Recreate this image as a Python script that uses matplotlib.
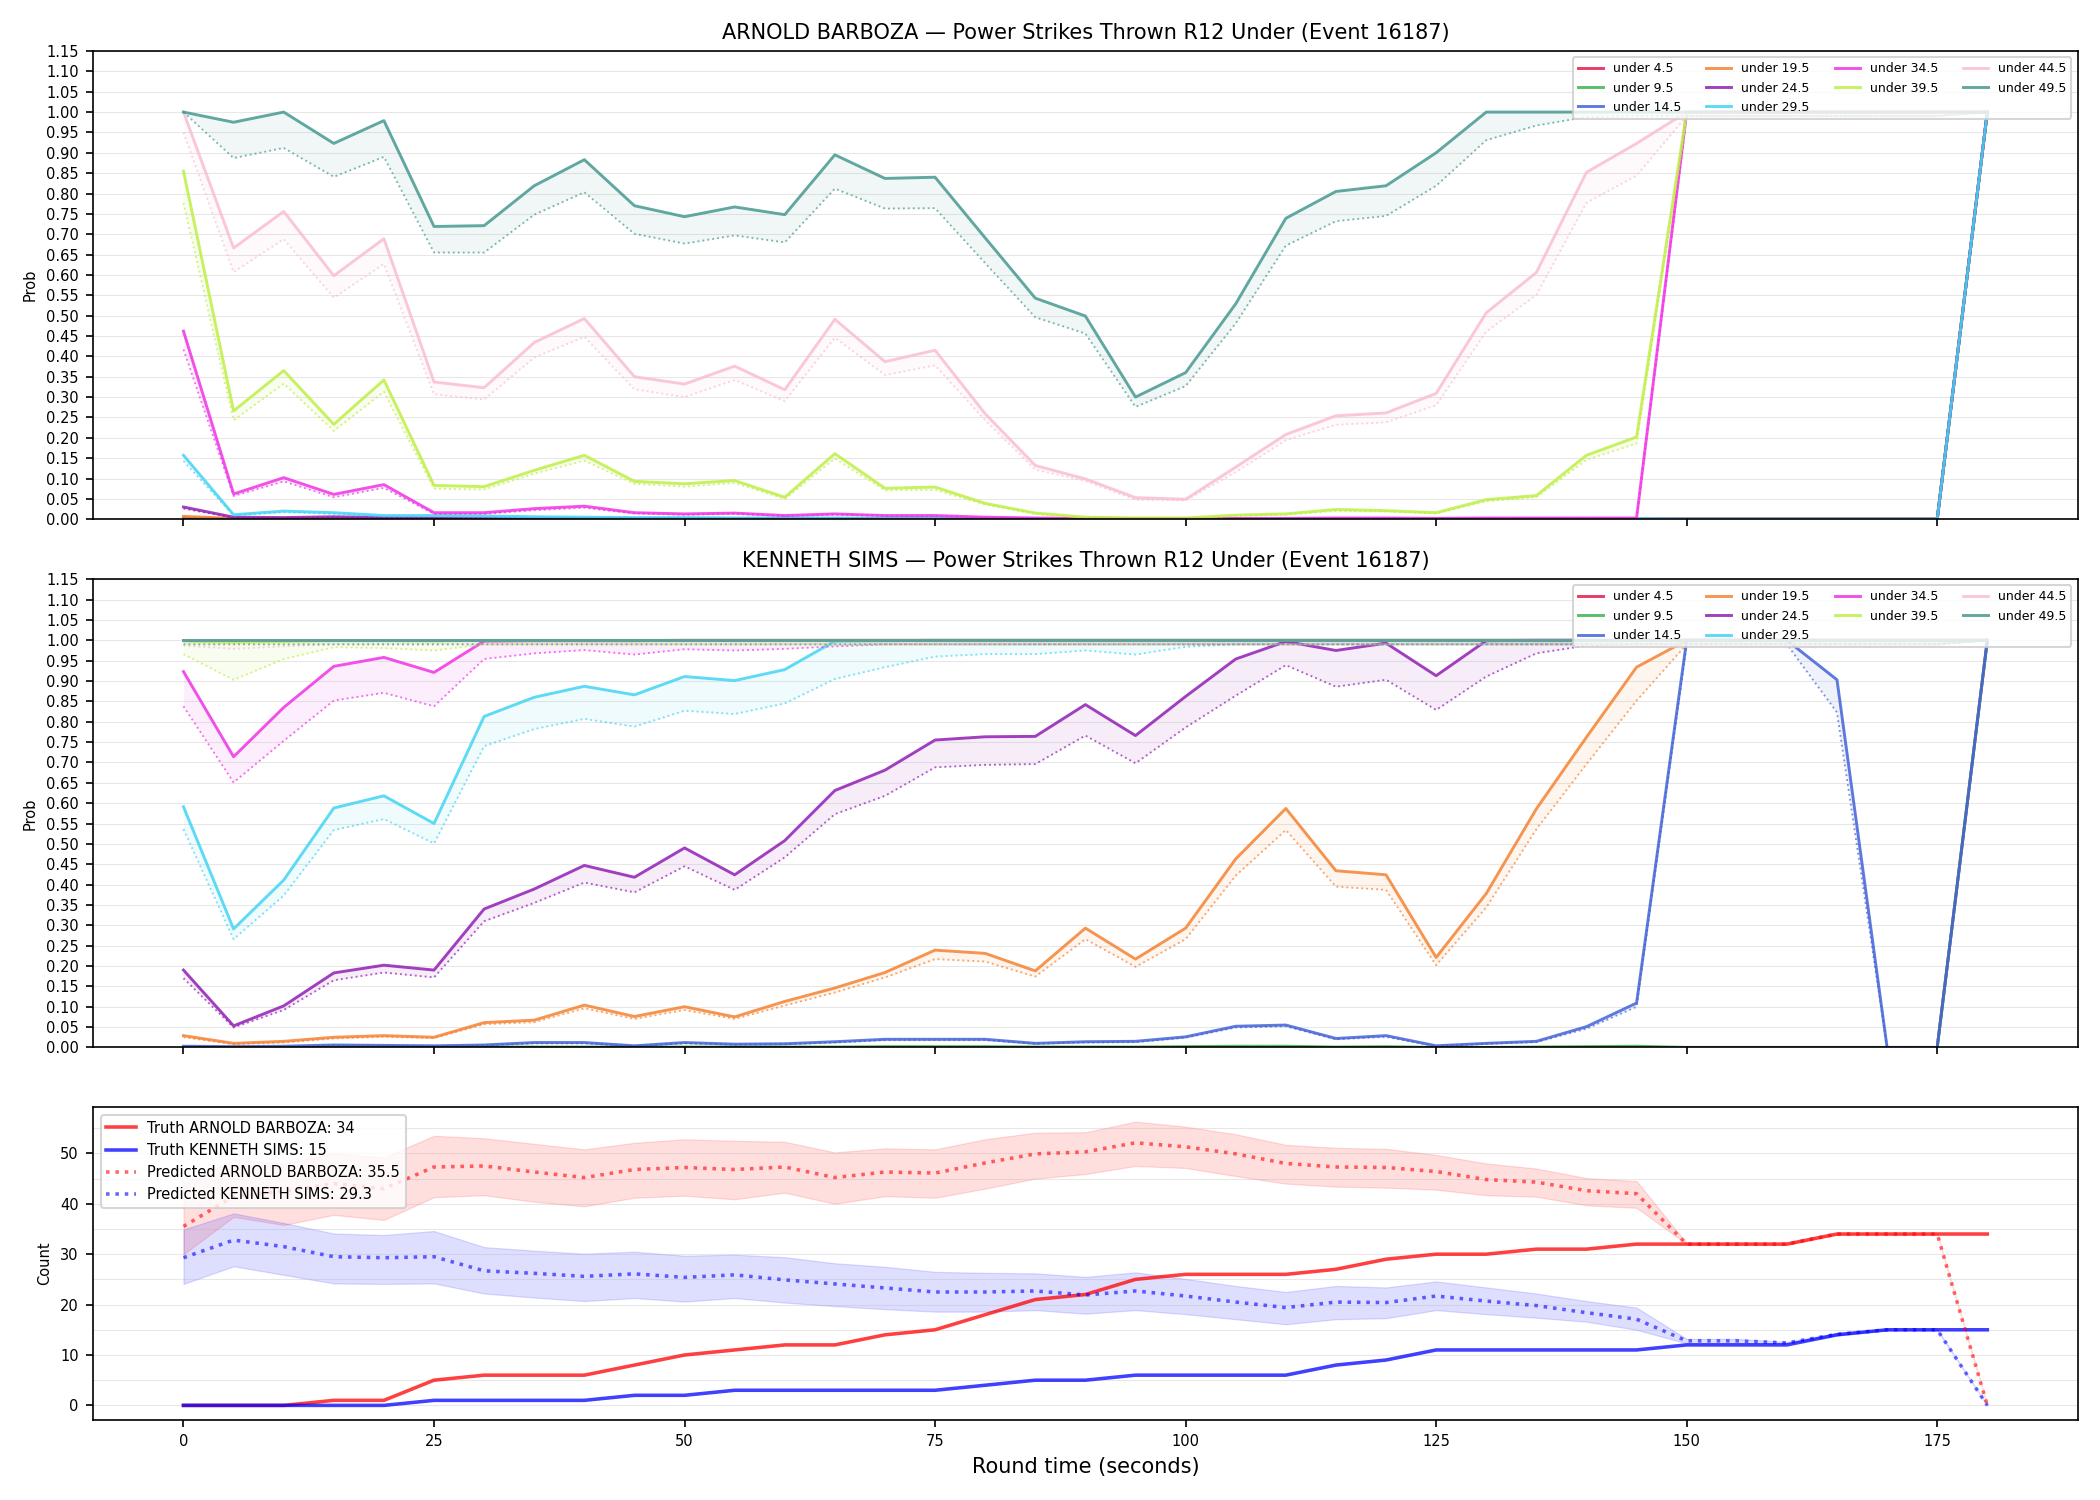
import numpy as np
import matplotlib
matplotlib.use('Agg')
import matplotlib.pyplot as plt
from matplotlib.ticker import MultipleLocator

# Tiempo de ronda (cada 5 s)
t = list(range(0, 185, 5))

thresholds = ['under 4.5', 'under 9.5', 'under 14.5', 'under 19.5', 'under 24.5',
              'under 29.5', 'under 34.5', 'under 39.5', 'under 44.5', 'under 49.5']
colors = ['#e6194b', '#3cb44b', '#4363d8', '#f58231', '#911eb4',
          '#42d4f4', '#f032e6', '#bfef45', '#fabed4', '#469990']

# ---------------- ARNOLD BARBOZA: prob (linea continua) y punteada ----------------
ab_u4 = [0.000, 0.000, 0.000, 0.000, 0.000, 0.000, 0.000, 0.000, 0.000, 0.000,
         0.000, 0.000, 0.000, 0.000, 0.000, 0.000, 0.000, 0.000, 0.000, 0.000,
         0.000, 0.000, 0.000, 0.000, 0.000, 0.000, 0.000, 0.000, 0.000, 0.000,
         0.000, 0.000, 0.000, 0.000, 0.000, 0.000, 1.000]
ab_u4_dot = [0.000, 0.000, 0.000, 0.000, 0.000, 0.000, 0.000, 0.000, 0.000, 0.000,
             0.000, 0.000, 0.000, 0.000, 0.000, 0.000, 0.000, 0.000, 0.000, 0.000,
             0.000, 0.000, 0.000, 0.000, 0.000, 0.000, 0.000, 0.000, 0.000, 0.000,
             0.000, 0.000, 0.000, 0.000, 0.000, 0.000, 1.000]
ab_u9 = [0.001, 0.000, 0.000, 0.000, 0.000, 0.000, 0.000, 0.000, 0.000, 0.000,
         0.000, 0.000, 0.000, 0.000, 0.000, 0.000, 0.000, 0.000, 0.000, 0.000,
         0.000, 0.000, 0.000, 0.000, 0.000, 0.000, 0.000, 0.000, 0.000, 0.000,
         0.000, 0.000, 0.000, 0.000, 0.000, 0.000, 1.000]
ab_u9_dot = [0.001, 0.000, 0.000, 0.000, 0.000, 0.000, 0.000, 0.000, 0.000, 0.000,
             0.000, 0.000, 0.000, 0.000, 0.000, 0.000, 0.000, 0.000, 0.000, 0.000,
             0.000, 0.000, 0.000, 0.000, 0.000, 0.000, 0.000, 0.000, 0.000, 0.000,
             0.000, 0.000, 0.000, 0.000, 0.000, 0.000, 1.000]
ab_u14 = [0.002, 0.001, 0.001, 0.001, 0.001, 0.000, 0.000, 0.000, 0.000, 0.000,
          0.000, 0.000, 0.000, 0.000, 0.000, 0.000, 0.000, 0.000, 0.000, 0.000,
          0.000, 0.000, 0.000, 0.000, 0.000, 0.000, 0.000, 0.000, 0.000, 0.000,
          0.000, 0.000, 0.000, 0.000, 0.000, 0.000, 1.000]
ab_u14_dot = [0.002, 0.001, 0.001, 0.001, 0.000, 0.000, 0.000, 0.000, 0.000, 0.000,
              0.000, 0.000, 0.000, 0.000, 0.000, 0.000, 0.000, 0.000, 0.000, 0.000,
              0.000, 0.000, 0.000, 0.000, 0.000, 0.000, 0.000, 0.000, 0.000, 0.000,
              0.000, 0.000, 0.000, 0.000, 0.000, 0.000, 1.000]
ab_u19 = [0.007, 0.002, 0.002, 0.002, 0.001, 0.001, 0.001, 0.001, 0.001, 0.000,
          0.000, 0.000, 0.000, 0.000, 0.000, 0.000, 0.000, 0.000, 0.000, 0.000,
          0.000, 0.000, 0.000, 0.000, 0.000, 0.000, 0.000, 0.000, 0.000, 0.000,
          0.000, 0.000, 0.000, 0.000, 0.000, 0.000, 1.000]
ab_u19_dot = [0.006, 0.002, 0.001, 0.002, 0.001, 0.001, 0.001, 0.001, 0.000, 0.000,
              0.000, 0.000, 0.000, 0.000, 0.000, 0.000, 0.000, 0.000, 0.000, 0.000,
              0.000, 0.000, 0.000, 0.000, 0.000, 0.000, 0.000, 0.000, 0.000, 0.000,
              0.000, 0.000, 0.000, 0.000, 0.000, 0.000, 1.000]
ab_u24 = [0.030, 0.005, 0.004, 0.006, 0.004, 0.002, 0.002, 0.002, 0.002, 0.001,
          0.001, 0.001, 0.001, 0.001, 0.001, 0.001, 0.000, 0.000, 0.000, 0.000,
          0.000, 0.000, 0.000, 0.000, 0.000, 0.000, 0.000, 0.000, 0.000, 0.000,
          0.000, 0.000, 0.000, 0.000, 0.000, 0.000, 1.000]
ab_u24_dot = [0.026, 0.004, 0.003, 0.005, 0.003, 0.002, 0.001, 0.001, 0.001, 0.001,
              0.001, 0.001, 0.001, 0.001, 0.000, 0.000, 0.000, 0.000, 0.000, 0.000,
              0.000, 0.000, 0.000, 0.000, 0.000, 0.000, 0.000, 0.000, 0.000, 0.000,
              0.000, 0.000, 0.000, 0.000, 0.000, 0.000, 1.000]
ab_u29 = [0.157, 0.011, 0.020, 0.016, 0.009, 0.009, 0.008, 0.006, 0.005, 0.004,
          0.004, 0.003, 0.003, 0.003, 0.002, 0.002, 0.001, 0.001, 0.001, 0.001,
          0.001, 0.001, 0.001, 0.001, 0.001, 0.001, 0.001, 0.001, 0.001, 0.001,
          0.000, 0.000, 0.000, 0.000, 0.000, 0.000, 1.000]
ab_u29_dot = [0.143, 0.009, 0.017, 0.013, 0.007, 0.007, 0.006, 0.005, 0.004, 0.003,
              0.003, 0.002, 0.002, 0.002, 0.001, 0.001, 0.001, 0.001, 0.001, 0.001,
              0.001, 0.001, 0.001, 0.001, 0.001, 0.001, 0.001, 0.001, 0.001, 0.001,
              0.000, 0.000, 0.000, 0.000, 0.000, 0.000, 1.000]
ab_u34 = [0.462, 0.062, 0.102, 0.061, 0.085, 0.016, 0.016, 0.026, 0.032, 0.016,
          0.013, 0.015, 0.009, 0.013, 0.009, 0.009, 0.005, 0.003, 0.002, 0.002,
          0.002, 0.002, 0.002, 0.003, 0.003, 0.002, 0.003, 0.003, 0.003, 0.003,
          1.000, 1.000, 1.000, 1.000, 1.000, 1.000, 1.000]
ab_u34_dot = [0.417, 0.057, 0.093, 0.054, 0.077, 0.013, 0.013, 0.022, 0.028, 0.014,
              0.011, 0.013, 0.008, 0.011, 0.008, 0.008, 0.004, 0.002, 0.001, 0.001,
              0.001, 0.001, 0.002, 0.002, 0.002, 0.002, 0.002, 0.002, 0.002, 0.002,
              0.990, 0.990, 0.990, 0.990, 0.990, 0.990, 1.000]
ab_u39 = [0.855, 0.266, 0.365, 0.233, 0.342, 0.083, 0.080, 0.120, 0.157, 0.093,
          0.087, 0.095, 0.054, 0.161, 0.076, 0.079, 0.039, 0.015, 0.005, 0.003,
          0.003, 0.010, 0.013, 0.024, 0.021, 0.016, 0.048, 0.058, 0.157, 0.202,
          1.000, 1.000, 1.000, 1.000, 1.000, 1.000, 1.000]
ab_u39_dot = [0.777, 0.243, 0.333, 0.217, 0.313, 0.075, 0.073, 0.112, 0.144, 0.087,
              0.080, 0.089, 0.050, 0.149, 0.071, 0.072, 0.036, 0.013, 0.004, 0.002,
              0.002, 0.008, 0.011, 0.020, 0.019, 0.014, 0.044, 0.054, 0.146, 0.186,
              0.990, 0.990, 0.990, 0.990, 0.990, 0.990, 1.000]
ab_u44 = [1.000, 0.666, 0.756, 0.598, 0.689, 0.337, 0.323, 0.434, 0.493, 0.350,
          0.332, 0.376, 0.318, 0.491, 0.387, 0.415, 0.259, 0.132, 0.099, 0.053,
          0.049, 0.128, 0.208, 0.254, 0.261, 0.309, 0.507, 0.606, 0.852, 0.923,
          1.000, 1.000, 1.000, 1.000, 1.000, 1.000, 1.000]
ab_u44_dot = [0.950, 0.607, 0.688, 0.544, 0.627, 0.307, 0.294, 0.397, 0.448, 0.319,
              0.300, 0.342, 0.290, 0.446, 0.354, 0.378, 0.243, 0.122, 0.094, 0.048,
              0.046, 0.116, 0.194, 0.232, 0.238, 0.280, 0.461, 0.551, 0.777, 0.844,
              0.990, 0.990, 0.990, 0.990, 0.990, 0.990, 1.000]
ab_u49 = [1.000, 0.975, 1.000, 0.923, 0.979, 0.719, 0.721, 0.819, 0.883, 0.770,
          0.743, 0.767, 0.748, 0.895, 0.837, 0.840, 0.691, 0.543, 0.499, 0.300,
          0.360, 0.529, 0.739, 0.805, 0.819, 0.900, 1.000, 1.000, 1.000, 1.000,
          1.000, 1.000, 1.000, 1.000, 1.000, 1.000, 1.000]
ab_u49_dot = [1.000, 0.887, 0.912, 0.841, 0.890, 0.655, 0.655, 0.748, 0.803, 0.701,
              0.677, 0.697, 0.680, 0.812, 0.763, 0.764, 0.629, 0.496, 0.456, 0.276,
              0.327, 0.481, 0.672, 0.732, 0.745, 0.819, 0.931, 0.967, 0.988, 0.990,
              0.990, 0.990, 0.990, 0.990, 0.990, 0.990, 1.000]

# ---------------- KENNETH SIMS ----------------
ks_u4 = [0.000, 0.000, 0.000, 0.000, 0.000, 0.000, 0.000, 0.000, 0.000, 0.000,
         0.000, 0.000, 0.000, 0.000, 0.000, 0.000, 0.000, 0.000, 0.000, 0.000,
         0.000, 0.000, 0.000, 0.000, 0.000, 0.000, 0.000, 0.000, 0.000, 0.000,
         0.000, 0.000, 0.000, 0.000, 0.000, 0.000, 1.000]
ks_u4_dot = [0.000, 0.000, 0.000, 0.000, 0.000, 0.000, 0.000, 0.000, 0.000, 0.000,
             0.000, 0.000, 0.000, 0.000, 0.000, 0.000, 0.000, 0.000, 0.000, 0.000,
             0.000, 0.000, 0.000, 0.000, 0.000, 0.000, 0.000, 0.000, 0.000, 0.000,
             0.000, 0.000, 0.000, 0.000, 0.000, 0.000, 1.000]
ks_u9 = [0.000, 0.000, 0.000, 0.001, 0.001, 0.001, 0.001, 0.001, 0.001, 0.001,
         0.001, 0.001, 0.001, 0.001, 0.002, 0.002, 0.002, 0.001, 0.001, 0.001,
         0.002, 0.003, 0.003, 0.001, 0.002, 0.000, 0.000, 0.001, 0.002, 0.003,
         0.000, 0.000, 0.000, 0.000, 0.000, 0.000, 1.000]
ks_u9_dot = [0.000, 0.000, 0.000, 0.001, 0.001, 0.001, 0.001, 0.001, 0.001, 0.001,
             0.001, 0.001, 0.001, 0.001, 0.001, 0.001, 0.001, 0.001, 0.001, 0.001,
             0.002, 0.002, 0.002, 0.001, 0.001, 0.000, 0.000, 0.001, 0.002, 0.002,
             0.000, 0.000, 0.000, 0.000, 0.000, 0.000, 1.000]
ks_u14 = [0.003, 0.002, 0.003, 0.006, 0.005, 0.004, 0.006, 0.012, 0.012, 0.004,
          0.012, 0.008, 0.009, 0.014, 0.020, 0.020, 0.020, 0.010, 0.014, 0.015,
          0.026, 0.052, 0.055, 0.022, 0.029, 0.004, 0.010, 0.015, 0.051, 0.109,
          1.000, 1.000, 1.000, 0.903, 0.000, 0.000, 1.000]
ks_u14_dot = [0.002, 0.002, 0.002, 0.005, 0.004, 0.003, 0.005, 0.010, 0.010, 0.003,
              0.010, 0.007, 0.008, 0.012, 0.018, 0.018, 0.018, 0.009, 0.012, 0.013,
              0.024, 0.049, 0.052, 0.020, 0.026, 0.003, 0.009, 0.013, 0.046, 0.100,
              0.990, 0.990, 0.990, 0.823, 0.000, 0.000, 1.000]
ks_u19 = [0.029, 0.010, 0.015, 0.025, 0.029, 0.025, 0.061, 0.067, 0.104, 0.076,
          0.100, 0.075, 0.113, 0.146, 0.184, 0.239, 0.231, 0.188, 0.293, 0.217,
          0.293, 0.463, 0.587, 0.434, 0.424, 0.221, 0.378, 0.586, 0.762, 0.934,
          1.000, 1.000, 1.000, 1.000, 1.000, 1.000, 1.000]
ks_u19_dot = [0.025, 0.008, 0.012, 0.022, 0.026, 0.023, 0.057, 0.062, 0.096, 0.070,
              0.092, 0.070, 0.103, 0.135, 0.172, 0.217, 0.211, 0.174, 0.266, 0.198,
              0.266, 0.422, 0.534, 0.395, 0.387, 0.202, 0.344, 0.536, 0.696, 0.852,
              0.990, 0.990, 0.990, 0.990, 0.990, 0.990, 1.000]
ks_u24 = [0.190, 0.053, 0.102, 0.183, 0.202, 0.190, 0.340, 0.389, 0.447, 0.418,
          0.490, 0.424, 0.508, 0.631, 0.681, 0.755, 0.763, 0.764, 0.842, 0.766,
          0.862, 0.954, 0.997, 0.975, 0.993, 0.913, 0.999, 1.000, 1.000, 1.000,
          1.000, 1.000, 1.000, 1.000, 1.000, 1.000, 1.000]
ks_u24_dot = [0.170, 0.049, 0.092, 0.165, 0.184, 0.172, 0.310, 0.355, 0.405, 0.381,
              0.445, 0.387, 0.467, 0.573, 0.618, 0.688, 0.694, 0.696, 0.766, 0.698,
              0.786, 0.864, 0.939, 0.886, 0.903, 0.829, 0.911, 0.968, 0.987, 0.990,
              0.990, 0.990, 0.990, 0.990, 0.990, 0.990, 1.000]
ks_u29 = [0.591, 0.291, 0.411, 0.588, 0.618, 0.550, 0.813, 0.860, 0.887, 0.866,
          0.911, 0.901, 0.928, 0.998, 0.999, 1.000, 1.000, 1.000, 1.000, 1.000,
          1.000, 1.000, 1.000, 1.000, 1.000, 1.000, 1.000, 1.000, 1.000, 1.000,
          1.000, 1.000, 1.000, 1.000, 1.000, 1.000, 1.000]
ks_u29_dot = [0.536, 0.266, 0.373, 0.534, 0.561, 0.501, 0.740, 0.782, 0.807, 0.788,
              0.827, 0.819, 0.845, 0.905, 0.934, 0.960, 0.966, 0.966, 0.975, 0.965,
              0.984, 0.990, 0.990, 0.990, 0.990, 0.990, 0.990, 0.990, 0.990, 0.990,
              0.990, 0.990, 0.990, 0.990, 0.990, 0.990, 1.000]
ks_u34 = [0.923, 0.714, 0.835, 0.936, 0.958, 0.921, 0.998, 0.999, 0.999, 0.999,
          1.000, 1.000, 1.000, 1.000, 1.000, 1.000, 1.000, 1.000, 1.000, 1.000,
          1.000, 1.000, 1.000, 1.000, 1.000, 1.000, 1.000, 1.000, 1.000, 1.000,
          1.000, 1.000, 1.000, 1.000, 1.000, 1.000, 1.000]
ks_u34_dot = [0.838, 0.651, 0.753, 0.852, 0.871, 0.838, 0.954, 0.968, 0.976, 0.965,
              0.978, 0.975, 0.979, 0.985, 0.990, 0.990, 0.990, 0.990, 0.990, 0.990,
              0.990, 0.990, 0.990, 0.990, 0.990, 0.990, 0.990, 0.990, 0.990, 0.990,
              0.990, 0.990, 0.990, 0.990, 0.990, 0.990, 1.000]
ks_u39 = [0.998, 0.995, 0.997, 0.999, 0.999, 0.998, 1.000, 1.000, 1.000, 1.000,
          1.000, 1.000, 1.000, 1.000, 1.000, 1.000, 1.000, 1.000, 1.000, 1.000,
          1.000, 1.000, 1.000, 1.000, 1.000, 1.000, 1.000, 1.000, 1.000, 1.000,
          1.000, 1.000, 1.000, 1.000, 1.000, 1.000, 1.000]
ks_u39_dot = [0.966, 0.903, 0.954, 0.983, 0.981, 0.975, 0.990, 0.990, 0.990, 0.990,
              0.990, 0.990, 0.990, 0.990, 0.990, 0.990, 0.990, 0.990, 0.990, 0.990,
              0.990, 0.990, 0.990, 0.990, 0.990, 0.990, 0.990, 0.990, 0.990, 0.990,
              0.990, 0.990, 0.990, 0.990, 0.990, 0.990, 1.000]
ks_u44 = [1.000, 1.000, 1.000, 1.000, 1.000, 1.000, 1.000, 1.000, 1.000, 1.000,
          1.000, 1.000, 1.000, 1.000, 1.000, 1.000, 1.000, 1.000, 1.000, 1.000,
          1.000, 1.000, 1.000, 1.000, 1.000, 1.000, 1.000, 1.000, 1.000, 1.000,
          1.000, 1.000, 1.000, 1.000, 1.000, 1.000, 1.000]
ks_u44_dot = [0.987, 0.979, 0.985, 0.990, 0.990, 0.990, 0.990, 0.990, 0.990, 0.990,
              0.990, 0.990, 0.990, 0.990, 0.990, 0.990, 0.990, 0.990, 0.990, 0.990,
              0.990, 0.990, 0.990, 0.990, 0.990, 0.990, 0.990, 0.990, 0.990, 0.990,
              0.990, 0.990, 0.990, 0.990, 0.990, 0.990, 1.000]
ks_u49 = [1.000, 1.000, 1.000, 1.000, 1.000, 1.000, 1.000, 1.000, 1.000, 1.000,
          1.000, 1.000, 1.000, 1.000, 1.000, 1.000, 1.000, 1.000, 1.000, 1.000,
          1.000, 1.000, 1.000, 1.000, 1.000, 1.000, 1.000, 1.000, 1.000, 1.000,
          1.000, 1.000, 1.000, 1.000, 1.000, 1.000, 1.000]
ks_u49_dot = [0.990, 0.990, 0.990, 0.990, 0.990, 0.990, 0.990, 0.990, 0.990, 0.990,
              0.990, 0.990, 0.990, 0.990, 0.990, 0.990, 0.990, 0.990, 0.990, 0.990,
              0.990, 0.990, 0.990, 0.990, 0.990, 0.990, 0.990, 0.990, 0.990, 0.990,
              0.990, 0.990, 0.990, 0.990, 0.990, 0.990, 1.000]

# ---------------- Conteos (panel inferior) ----------------
truth_ab = [0, 0, 0, 1, 1, 5, 6, 6, 6, 8, 10, 11, 12, 12, 14, 15, 18, 21, 22, 25,
            26, 26, 26, 27, 29, 30, 30, 31, 31, 32, 32, 32, 32, 34, 34, 34, 34]
truth_ks = [0, 0, 0, 0, 0, 1, 1, 1, 1, 2, 2, 3, 3, 3, 3, 3, 4, 5, 5, 6,
            6, 6, 6, 8, 9, 11, 11, 11, 11, 11, 12, 12, 12, 14, 15, 15, 15]
pred_ab = [35.5, 41.5, 42.5, 44.0, 43.0, 47.3, 47.5, 46.3, 45.2, 46.8,
           47.2, 46.8, 47.3, 45.2, 46.3, 46.1, 48.1, 49.9, 50.3, 52.1,
           51.3, 49.9, 48.0, 47.3, 47.2, 46.4, 44.8, 44.3, 42.6, 42.0,
           32.0, 32.0, 32.0, 34.0, 34.0, 34.0, 0.0]
ab_hi = [44.0, 48.8, 48.0, 50.0, 49.2, 53.5, 53.0, 51.9, 50.8, 52.1,
         52.8, 52.5, 52.3, 50.2, 51.0, 50.8, 52.8, 54.1, 54.2, 56.3,
         55.3, 53.8, 51.7, 51.1, 50.9, 49.7, 48.0, 47.0, 45.1, 44.5,
         32.2, 32.0, 32.0, 34.0, 34.0, 34.0, 0.0]
ab_lo = [30.0, 37.4, 35.8, 37.8, 36.8, 41.3, 41.7, 40.4, 39.5, 41.2,
         41.6, 40.9, 42.2, 40.0, 41.5, 41.2, 43.0, 45.0, 45.9, 47.5,
         47.1, 45.5, 44.0, 43.4, 43.2, 42.8, 41.7, 41.4, 39.7, 39.2,
         32.0, 32.0, 32.0, 34.0, 34.0, 34.0, 0.0]
pred_ks = [29.3, 32.8, 31.5, 29.5, 29.3, 29.5, 26.7, 26.2, 25.6, 26.1,
           25.4, 25.9, 24.9, 24.1, 23.3, 22.5, 22.5, 22.7, 21.9, 22.7,
           21.7, 20.5, 19.4, 20.5, 20.4, 21.7, 20.7, 19.8, 18.4, 17.1,
           12.8, 12.8, 12.4, 14.1, 15.0, 15.0, 0.0]
ks_hi = [34.9, 38.1, 36.2, 34.1, 33.8, 34.6, 31.4, 30.7, 30.1, 30.5,
         29.7, 29.9, 29.4, 28.2, 27.5, 26.5, 26.3, 26.2, 25.5, 26.4,
         25.1, 23.7, 22.5, 23.7, 23.4, 24.6, 23.4, 22.2, 20.7, 19.4,
         13.2, 13.2, 12.6, 14.4, 15.1, 15.1, 0.0]
ks_lo = [24.1, 27.6, 25.9, 24.2, 24.1, 24.2, 22.2, 21.4, 20.7, 21.3,
         20.6, 21.3, 20.4, 19.7, 19.1, 18.6, 18.6, 18.9, 18.2, 18.9,
         18.1, 17.1, 16.1, 17.1, 17.3, 18.9, 18.1, 17.4, 16.6, 15.0,
         12.3, 12.3, 12.3, 13.9, 14.9, 14.9, 0.0]

ab_solid = [ab_u4, ab_u9, ab_u14, ab_u19, ab_u24, ab_u29, ab_u34, ab_u39, ab_u44, ab_u49]
ab_dot = [ab_u4_dot, ab_u9_dot, ab_u14_dot, ab_u19_dot, ab_u24_dot,
          ab_u29_dot, ab_u34_dot, ab_u39_dot, ab_u44_dot, ab_u49_dot]
ks_solid = [ks_u4, ks_u9, ks_u14, ks_u19, ks_u24, ks_u29, ks_u34, ks_u39, ks_u44, ks_u49]
ks_dot = [ks_u4_dot, ks_u9_dot, ks_u14_dot, ks_u19_dot, ks_u24_dot,
          ks_u29_dot, ks_u34_dot, ks_u39_dot, ks_u44_dot, ks_u49_dot]


def draw_prob_panel(ax, solid, dotted, title):
    """Lineas de probabilidad 'under' con banda entre continua y punteada"""
    for lab, col, s, d in zip(thresholds, colors, solid, dotted):
        ax.plot(t, s, color=col, lw=1.4, alpha=0.85, label=lab)
        ax.plot(t, d, color=col, lw=0.9, ls=':', alpha=0.7)
        ax.fill_between(t, d, s, color=col, alpha=0.08, lw=0)
    ax.set_ylim(0, 1.15)
    ax.set_yticks(np.arange(0, 1.151, 0.05))
    ax.yaxis.set_major_formatter('{x:.2f}')
    ax.tick_params(labelsize=7)
    ax.set_ylabel('Prob', fontsize=7)
    ax.set_title(title, fontsize=10)
    ax.grid(True, axis='y', alpha=0.3, lw=0.5)
    ax.legend(loc='upper right', ncol=4, fontsize=6)


fig, axes = plt.subplots(3, 1, figsize=(14, 10), dpi=150, sharex=True,
                         gridspec_kw={'height_ratios': [3, 3, 2]})

draw_prob_panel(axes[0], ab_solid, ab_dot,
                'ARNOLD BARBOZA — Power Strikes Thrown R12 Under (Event 16187)')
draw_prob_panel(axes[1], ks_solid, ks_dot,
                'KENNETH SIMS — Power Strikes Thrown R12 Under (Event 16187)')

# Panel de conteos
ax = axes[2]
ax.plot(t, truth_ab, color='red', lw=1.7, alpha=0.75, label='Truth ARNOLD BARBOZA: 34')
ax.plot(t, truth_ks, color='blue', lw=1.7, alpha=0.75, label='Truth KENNETH SIMS: 15')
ax.plot(t, pred_ab, color='red', lw=1.7, ls=':', alpha=0.6, label='Predicted ARNOLD BARBOZA: 35.5')
ax.fill_between(t, ab_lo, ab_hi, color='red', alpha=0.13, lw=0.6)
ax.plot(t, pred_ks, color='blue', lw=1.7, ls=':', alpha=0.6, label='Predicted KENNETH SIMS: 29.3')
ax.fill_between(t, ks_lo, ks_hi, color='blue', alpha=0.13, lw=0.6)
ax.yaxis.set_major_locator(MultipleLocator(10))
ax.yaxis.set_minor_locator(MultipleLocator(5))
ax.tick_params(axis='y', which='minor', length=0)
ax.tick_params(labelsize=7)
ax.grid(True, axis='y', which='both', alpha=0.3, lw=0.5)
ax.set_ylabel('Count', fontsize=7)
ax.set_xlabel('Round time (seconds)', fontsize=10)
ax.legend(loc='upper left', fontsize=7)

plt.tight_layout()
plt.savefig('out.png', dpi=150)
plt.close()
